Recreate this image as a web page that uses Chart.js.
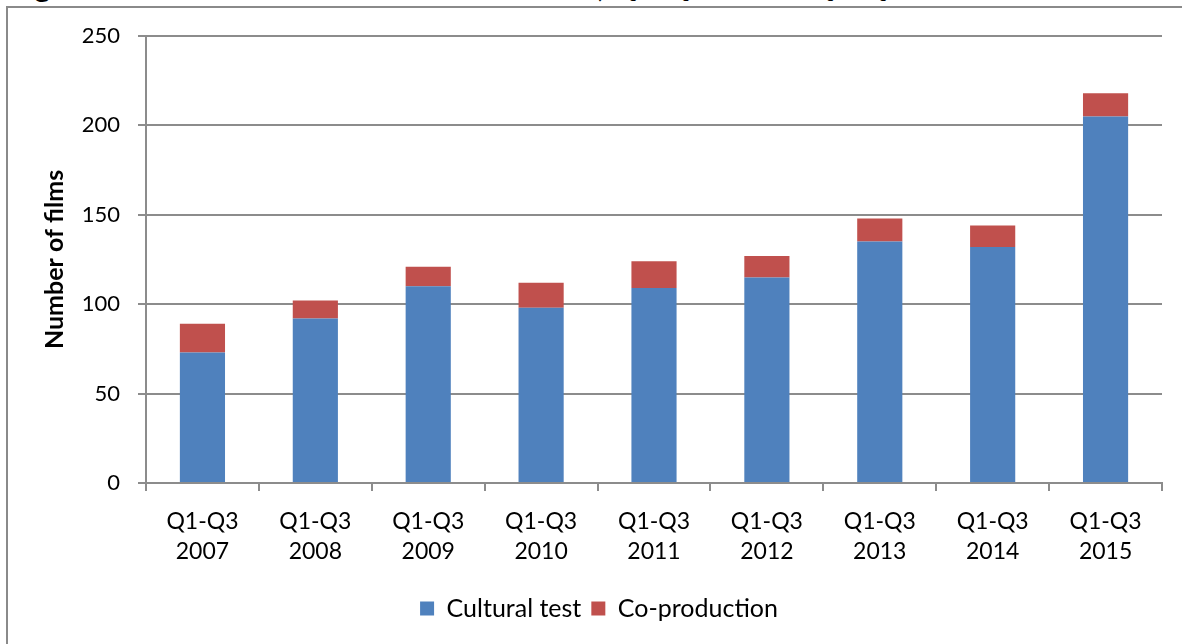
<!DOCTYPE html>
<html>
<head>
<meta charset="utf-8">
<script src="https://cdn.jsdelivr.net/npm/chart.js@4/dist/chart.umd.min.js"></script>
<style>
  html, body { margin: 0; padding: 0; background: #fff; overflow: hidden; }
  #frame {
    position: absolute; left: 6px; top: 6px; width: 2000px; height: 2000px;
    border: 2px solid #8a8a8a;
  }
  #heading {
    position: absolute; left: 10px; top: -33px; white-space: nowrap;
    font: bold 30px Lato, sans-serif; color: #000;
  }
  #wrap { position: absolute; left: 0; top: 0; width: 1182px; height: 644px; }
</style>
</head>
<body>
<div id="heading">Figure 1: Number of films certified as British, Q1-Q3 2007 - Q1-Q3 2015</div>
<div id="frame"></div>
<div id="wrap"><canvas id="canvas1"></canvas></div>
<script>
let periods = ['2007', '2008', '2009', '2010', '2011', '2012', '2013', '2014', '2015'];
let culturalTest = [73, 92, 110, 98, 109, 115, 135, 132, 205];
let coProduction = [16, 10, 11, 14, 15, 12, 13, 12, 13];

let labels = periods.map(p => ['Q1-Q3', p]);

const gridGrey = '#8c8c8c';

const ctx1 = document.getElementById('canvas1').getContext('2d');
const chart1 = new Chart(ctx1, {
  type: 'bar',
  data: {
    labels: labels,
    datasets: [{
      label: 'Cultural test',
      data: culturalTest,
      backgroundColor: '#4F81BD',
      borderWidth: 0,
    }, {
      label: 'Co-production',
      data: coProduction,
      backgroundColor: '#C0504D',
      borderWidth: 0,
    }],
  },
  options: {
    responsive: true,
    maintainAspectRatio: false,
    animation: false,
    categoryPercentage: 1,
    barPercentage: 0.4,
    layout: { padding: { left: 36, right: 20, top: 36, bottom: 13 } },
    scales: {
      x: {
        stacked: true,
        grid: { offset: true, drawOnChartArea: false, drawTicks: true, tickLength: 8, color: gridGrey, lineWidth: 2 },
        border: { color: gridGrey, width: 2 },
        ticks: {
          color: '#000', padding: 16, maxRotation: 0,
          font: { family: 'Lato', size: 23, lineHeight: 1.3 },
        },
        afterFit: (scale) => { scale.height = 103; },
      },
      y: {
        stacked: true,
        min: 0,
        max: 250,
        ticks: {
          stepSize: 50, color: '#000', padding: 18,
          font: { family: 'Lato', size: 22 },
        },
        grid: { color: gridGrey, lineWidth: 2, tickLength: 8 },
        border: { color: gridGrey, width: 2 },
        title: {
          display: true, text: 'Number of films', color: '#000',
          font: { family: 'Lato', size: 25, weight: 'bold' },
        },
        afterFit: (scale) => { scale.width = 110; },
      },
    },
    plugins: {
      legend: {
        position: 'bottom',
        labels: {
          color: '#000', boxWidth: 14, boxHeight: 14, padding: 10,
          font: { family: 'Lato', size: 25 },
        },
      },
      tooltip: { enabled: false },
    },
  },
});
</script>
</body>
</html>
